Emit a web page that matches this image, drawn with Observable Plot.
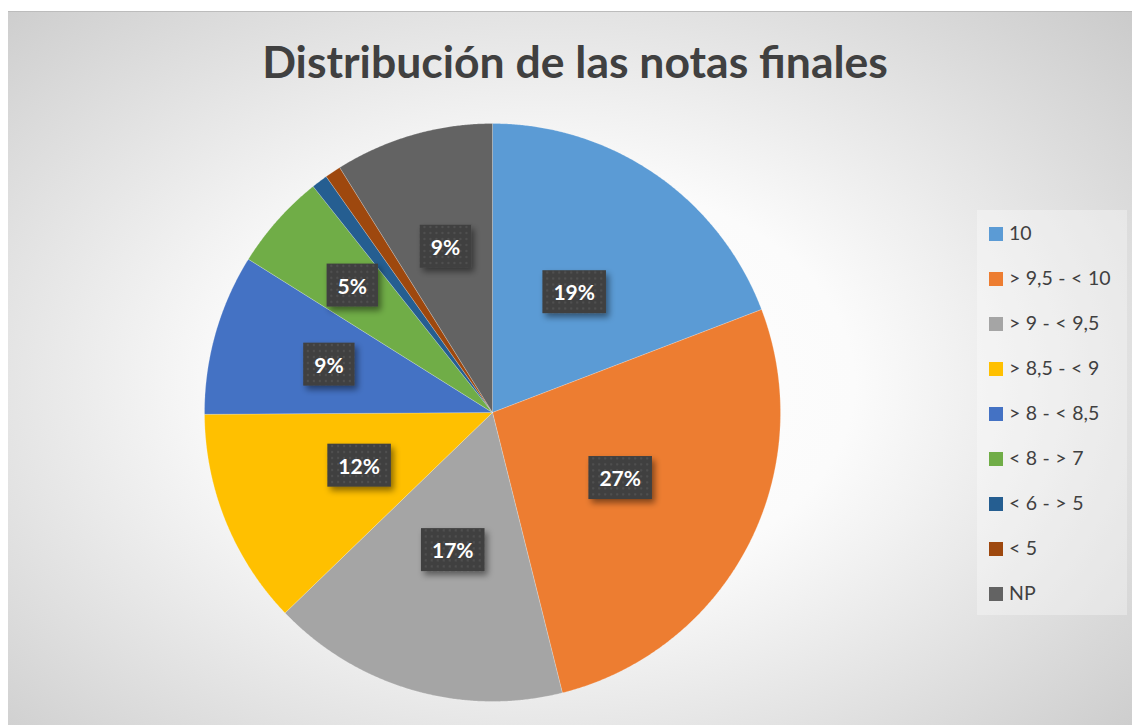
<!DOCTYPE html>
<html><head><meta charset="utf-8">
<script src="https://cdn.jsdelivr.net/npm/d3@7"></script>
<script src="https://cdn.jsdelivr.net/npm/@observablehq/plot@0.6"></script>
<style>
body{margin:0;background:#fff;width:1132px;height:725px;overflow:hidden;position:relative;}
#frame{position:absolute;left:8px;top:11px;width:1124px;height:714px;
  background:radial-gradient(ellipse 78% 82% at 48% 52%, #ffffff 0%, #fbfbfb 35%, #c4c4c4 100%);
  border-top:1px solid #bcbcbc;overflow:hidden;}
#title{position:absolute;left:0;top:34px;width:1150px;text-align:center;font-family:Lato,"Open Sans",sans-serif;font-weight:bold;font-size:44.5px;color:#404040;white-space:nowrap;}
#chart{position:absolute;left:0;top:100px;}
#legend{position:absolute;left:977px;top:210px;width:150px;height:405px;background:rgba(255,255,255,0.32);font-family:Lato,"Open Sans",sans-serif;font-size:19.5px;word-spacing:0.5px;color:#404040;}
.item{position:absolute;left:12px;height:20px;line-height:20px;white-space:nowrap;}
.sw{display:inline-block;width:14px;height:14px;vertical-align:-1px;margin-right:6px;}
</style></head>
<body>
<div id="frame"></div>
<div id="title"><span id="tspan"></span></div>
<div id="chart"></div>
<div id="legend"></div>
<script>
const title = "Distribución de las notas finales";
const categories = ["10", "> 9,5 - < 10", "> 9 - < 9,5", "> 8,5 - < 9", "> 8 - < 8,5", "< 8 - > 7", "< 6 - > 5", "< 5", "NP"];
const shares = [19.2, 26.9, 16.7, 12.1, 9.0, 5.4, 0.9, 0.9, 8.9];
const colors = ["#5B9BD5", "#ED7D31", "#A5A5A5", "#FFC000", "#4472C4", "#70AD47", "#255E91", "#9E480E", "#636363"];
const showLabel = [true, true, true, true, true, true, false, false, true];

document.getElementById("tspan").textContent = title;

const total = d3.sum(shares);
const arcs = d3.pie().sort(null).value(d => d)(shares);

// polygon vertices of each slice, derived from the data
const slicePts = [];
arcs.forEach((a, i) => {
  const cat = categories[i];
  slicePts.push({cat, x: 0, y: 0});
  const n = Math.max(2, Math.ceil((a.endAngle - a.startAngle) / 0.005));
  for (let k = 0; k <= n; k++) {
    const t = a.startAngle + (a.endAngle - a.startAngle) * k / n;
    slicePts.push({cat, x: Math.sin(t), y: Math.cos(t)});
  }
  slicePts.push({cat, x: 0, y: 0});
});

const labels = arcs.map((a, i) => {
  const span = (a.endAngle - a.startAngle) * 180 / Math.PI;
  const r = span > 40 ? 0.5 : Math.min(0.66, 0.59 + (32.5 - span) * 0.0048);
  const m = (a.startAngle + a.endAngle) / 2;
  return {cat: categories[i], show: showLabel[i], x: r * Math.sin(m), y: r * Math.cos(m),
          text: Math.round(shares[i] / total * 100) + "%"};
}).filter(d => d.show);

const W = 1132, H = 625;
const plot = Plot.plot({
  width: W, height: H,
  marginLeft: 204, marginRight: 352, marginTop: 23, marginBottom: 24,
  x: {domain: [-1, 1], axis: null},
  y: {domain: [-1, 1], axis: null},
  color: {domain: categories, range: colors},
  style: {background: "transparent", overflow: "visible"},
  marks: [
    Plot.line(slicePts, {x: "x", y: "y", z: "cat", fill: "cat", stroke: "#ffffff", strokeWidth: 0.6, strokeOpacity: 0.35}),
    Plot.text(labels, {x: "x", y: "y", text: "text", fill: "white", fontWeight: "bold", fontSize: 21,
      fontFamily: "Lato, 'Open Sans', sans-serif", className: "pct"})
  ]
});
document.getElementById("chart").appendChild(plot);

// label boxes behind percentage text
const ns = "http://www.w3.org/2000/svg";
const defs = document.createElementNS(ns, "defs");
defs.innerHTML = `
<pattern id="dots" width="6" height="6" patternUnits="userSpaceOnUse">
  <rect width="6" height="6" fill="#404040"/>
  <circle cx="3" cy="3" r="1.2" fill="#505050"/>
</pattern>
<filter id="sh" x="-30%" y="-30%" width="160%" height="170%">
  <feDropShadow dx="3" dy="4" stdDeviation="3" flood-color="#000" flood-opacity="0.45"/>
</filter>`;
plot.insertBefore(defs, plot.firstChild);
plot.querySelectorAll(".pct text").forEach(t => {
  const b = t.getBBox();
  const r = document.createElementNS(ns, "rect");
  r.setAttribute("x", b.x - 11);
  r.setAttribute("y", b.y - 9);
  r.setAttribute("width", b.width + 22);
  r.setAttribute("height", b.height + 18);
  r.setAttribute("fill", "url(#dots)");
  r.setAttribute("filter", "url(#sh)");
  const tr = t.getAttribute("transform");
  if (tr) r.setAttribute("transform", tr);
  t.parentNode.insertBefore(r, t);
});

// legend
const leg = document.getElementById("legend");
categories.forEach((c, i) => {
  const d = document.createElement("div");
  d.className = "item";
  d.style.top = (13 + i * 45) + "px";
  d.innerHTML = `<span class="sw" style="background:${colors[i]}"></span>`;
  d.appendChild(document.createTextNode(c));
  leg.appendChild(d);
});
</script>
</body></html>
